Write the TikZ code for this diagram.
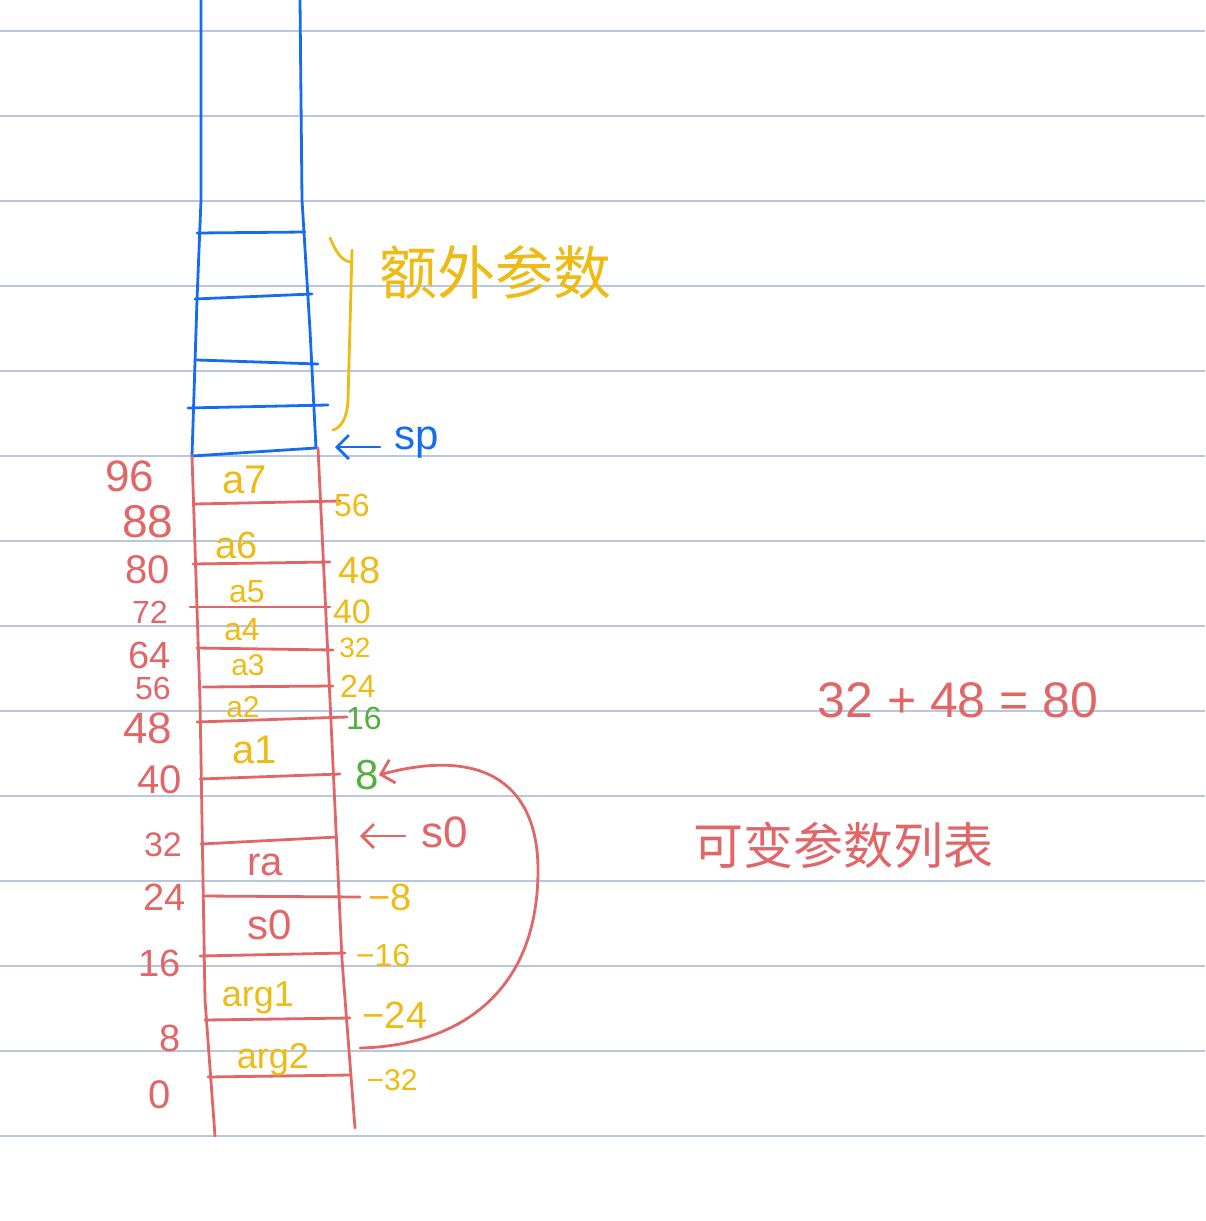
\documentclass[tikz,border=0pt]{standalone}
\usepackage{fontspec}
\setmainfont{Liberation Sans}
\newfontfamily\cjk{Noto Sans CJK SC}
\usetikzlibrary{arrows.meta}

\definecolor{rulecol}{RGB}{184,198,222}
\definecolor{penblue}{RGB}{22,108,240}
\definecolor{penred}{RGB}{224,102,104}
\definecolor{penyellow}{RGB}{238,186,20}
\definecolor{pengreen}{RGB}{84,176,60}

\tikzset{
    pen/.style={line width=2.8pt, line cap=round, line join=round},
    hand/.style={inner sep=0pt, font=\fontsize{#1}{#1}\selectfont},
    hand/.default=36,
    barb/.style={-{Straight Barb[length=12pt,width=24pt,line width=2.8pt]}},
}

\begin{document}
\begin{tikzpicture}[x=1pt,y=-1pt]
    \useasboundingbox (0,0) rectangle (1205,1221);
    \fill[white] (0,0) rectangle (1205,1221);
    % ruled paper
    \foreach \y in {31,116,...,1136}
        \draw[rulecol,line width=1.4pt] (0,\y) -- (1205,\y);

    % caller frame (blue)
    \draw[pen,penblue] (201,0) -- (201,200) -- (197,300) -- (192,456);
    \draw[pen,penblue] (300,0) -- (302,200) -- (310,330) -- (316,448);
    \draw[pen,penblue] (197,233) -- (305,232);
    \draw[pen,penblue] (195,299) -- (312,294);
    \draw[pen,penblue] (197,360) -- (318,364);
    \draw[pen,penblue] (188,408) -- (328,405);
    \draw[pen,penblue] (192,456) -- (316,448);

    \draw[pen,penyellow] (330,238) .. controls (336,252) and (342,262) .. (352,262);
    \draw[pen,penyellow] (352,250) -- (348,400) .. controls (347,420) and (340,428) .. (333,430);
    \node[hand=58,text=penyellow,font=\cjk\fontsize{58}{58}\selectfont] (extra) at (495,272) {额外参数};

    \node[hand=42,text=penblue] (sp) at (417,443) {sp};
    \coordinate (spstart) at (380,447);
    \coordinate (spend) at (335,447);
    \draw[pen,penblue,barb] (spstart) -- (spend);

    % callee frame (red)
    \draw[pen,penred] (192,456) -- (200,700) -- (205,1000) -- (215,1136);
    \draw[pen,penred] (318,448) -- (330,700) -- (342,960) -- (355,1128);
    \foreach \xa/\ya/\xb/\yb in {195/504/340/501, 193/564/330/562, 190/607/330/607,
        197/648/333/650, 203/687/333/686, 197/722/347/717, 200/779/340/774,
        201/844/337/837, 203/896/360/897, 200/956/345/953, 205/1020/350/1018,
        208/1077/350/1075}
        \draw[pen,penred] (\xa,\ya) -- (\xb,\yb);

    % addresses from the bottom
    \foreach \t/\x/\y/\s in {96/130/476/44, 88/148/522/46, 80/148/570/40, 72/150/612/32,
        64/150/655/38, 56/153/688/32, 48/148/728/44, 40/160/780/40, 32/163/845/34,
        24/165/897/38, 16/160/963/38, 8/170/1038/38, 0/160/1095/40}
        \node[hand=\s,text=penred] (l\t) at (\x,\y) {\t};

    % offsets from s0
    \foreach \t/\x/\y/\s in {56/352/505/32, 48/360/570/38, 40/352/612/34, 32/355/648/28,
        24/358/686/32}
        \node[hand=\s,text=penyellow] (r\t) at (\x,\y) {\t};
    \node[hand=32,text=pengreen] (r16) at (364,718) {16};
    \node[hand=42,text=pengreen] (eight) at (367,775) {8};
    \foreach \t/\x/\y/\s in {8/390/897/38, 16/383/955/32, 24/395/1015/38, 32/392/1080/30}
        \node[hand=\s,text=penyellow] (m\t) at (\x,\y) {−\t};

    % slots
    \foreach \t/\x/\y/\s in {a7/245/480/40, a6/237/545/38, a5/247/592/32, a4/242/630/32,
        a3/248/665/30, a2/243/707/30, a1/255/750/40, arg1/258/998/36, arg2/273/1060/36}
        \node[hand=\s,text=penyellow] (s\t) at (\x,\y) {\t};
    \node[hand=40,text=penred] (sra) at (265,865) {ra};
    \node[hand=42,text=penred] (ss0) at (270,925) {s0};

    \node[hand=44,text=penred] (fp) at (445,832) {s0};
    \coordinate (fpstart) at (405,836);
    \coordinate (fpend) at (360,836);
    \draw[pen,penred,barb] (fpstart) -- (fpend);

    \coordinate (vastart) at (360,1048);
    \draw[pen,penred,barb] (vastart) .. controls (450,1046) and (538,1000) .. (538,870)
        .. controls (538,790) and (490,745) .. (eight.east);

    \node[hand=50,text=penred] (sum) at (958,700) {32 + 48 = 80};
    \node[hand=50,text=penred,font=\cjk\fontsize{50}{50}\selectfont] (valist) at (843,845) {可变参数列表};
\end{tikzpicture}
\end{document}
